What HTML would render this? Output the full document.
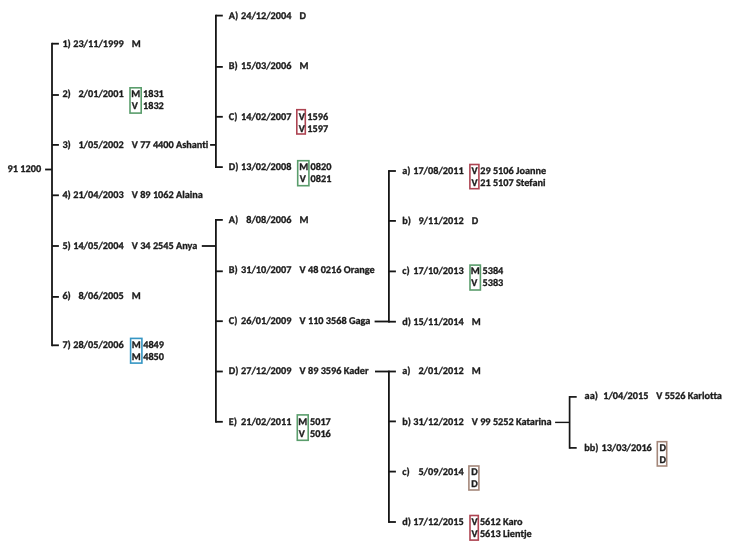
<!DOCTYPE html>
<html><head><meta charset="utf-8"><title>Stamboom</title>
<style>
html,body{margin:0;padding:0;background:#fff;}
body{width:736px;height:550px;position:relative;overflow:hidden;}
svg{position:absolute;left:0;top:0;}
b{position:absolute;display:block;white-space:nowrap;font-family:"Carlito", "Liberation Sans", sans-serif;font-weight:bold;font-size:10.25px;font-size-adjust:0.4849;line-height:12px;color:#1c1c1c;-webkit-text-stroke:0.32px #1c1c1c;font-variant-ligatures:none;text-rendering:geometricPrecision;}
</style></head><body>
<svg width="736" height="550" viewBox="0 0 736 550" fill="#161616">
<rect x="51.10" y="42.80" width="1.80" height="303.40"/>
<rect x="52.00" y="42.80" width="6.90" height="1.80"/>
<rect x="52.00" y="94.10" width="6.90" height="1.80"/>
<rect x="52.00" y="144.00" width="6.90" height="1.80"/>
<rect x="52.00" y="194.40" width="6.90" height="1.80"/>
<rect x="52.00" y="245.10" width="6.90" height="1.80"/>
<rect x="52.00" y="296.00" width="6.90" height="1.80"/>
<rect x="52.00" y="344.40" width="6.90" height="1.80"/>
<rect x="45.10" y="168.60" width="6.90" height="1.80"/>
<rect x="215.00" y="14.70" width="1.80" height="153.30"/>
<rect x="215.90" y="14.70" width="6.90" height="1.80"/>
<rect x="215.90" y="66.00" width="6.90" height="1.80"/>
<rect x="215.90" y="115.90" width="6.90" height="1.80"/>
<rect x="215.90" y="166.20" width="6.90" height="1.80"/>
<rect x="210.10" y="144.00" width="5.80" height="1.80"/>
<rect x="215.00" y="219.00" width="1.80" height="203.70"/>
<rect x="215.90" y="219.00" width="6.90" height="1.80"/>
<rect x="215.90" y="270.40" width="6.90" height="1.80"/>
<rect x="215.90" y="320.30" width="6.90" height="1.80"/>
<rect x="215.90" y="370.60" width="6.90" height="1.80"/>
<rect x="215.90" y="420.90" width="6.90" height="1.80"/>
<rect x="201.80" y="245.10" width="14.10" height="1.80"/>
<rect x="388.00" y="170.10" width="1.80" height="152.50"/>
<rect x="388.90" y="170.10" width="7.00" height="1.80"/>
<rect x="388.90" y="220.00" width="7.00" height="1.80"/>
<rect x="388.90" y="270.50" width="7.00" height="1.80"/>
<rect x="388.90" y="320.80" width="7.00" height="1.80"/>
<rect x="374.60" y="320.60" width="14.30" height="1.80"/>
<rect x="388.00" y="370.60" width="1.80" height="152.30"/>
<rect x="388.90" y="370.60" width="7.00" height="1.80"/>
<rect x="388.90" y="420.50" width="7.00" height="1.80"/>
<rect x="388.90" y="470.70" width="7.00" height="1.80"/>
<rect x="388.90" y="521.10" width="7.00" height="1.80"/>
<rect x="375.00" y="370.60" width="13.90" height="1.80"/>
<rect x="568.75" y="396.05" width="1.70" height="52.70"/>
<rect x="569.60" y="396.05" width="7.10" height="1.70"/>
<rect x="569.60" y="447.05" width="7.10" height="1.70"/>
<rect x="555.10" y="421.70" width="14.50" height="1.40"/>
<rect x="130.00" y="87.80" width="11.20" height="25.30" fill="none" stroke="#5a9d6c" stroke-width="1.6"/>
<rect x="130.60" y="338.40" width="11.30" height="24.70" fill="none" stroke="#3696c4" stroke-width="1.6"/>
<rect x="296.80" y="109.70" width="8.50" height="24.30" fill="none" stroke="#ad4452" stroke-width="1.6"/>
<rect x="297.70" y="160.70" width="11.20" height="25.00" fill="none" stroke="#5a9d6c" stroke-width="1.6"/>
<rect x="297.30" y="414.90" width="10.90" height="25.40" fill="none" stroke="#5a9d6c" stroke-width="1.6"/>
<rect x="469.90" y="164.50" width="9.00" height="24.20" fill="none" stroke="#ad4452" stroke-width="1.6"/>
<rect x="470.00" y="265.10" width="10.40" height="24.90" fill="none" stroke="#5a9d6c" stroke-width="1.6"/>
<rect x="468.90" y="466.00" width="10.00" height="24.00" fill="none" stroke="#a4877a" stroke-width="1.6"/>
<rect x="470.00" y="515.50" width="8.30" height="24.60" fill="none" stroke="#ad4452" stroke-width="1.6"/>
<rect x="657.30" y="441.70" width="9.40" height="24.30" fill="none" stroke="#a4877a" stroke-width="1.6"/>
</svg>
<b style="left:7.60px;top:163.43px">91 1200</b>
<b style="left:62.40px;top:37.78px">1)</b>
<b style="right:612.40px;top:37.78px">23/11/1999</b>
<b style="left:131.80px;top:37.78px">M</b>
<b style="left:62.40px;top:88.23px">2)</b>
<b style="right:612.40px;top:88.23px">2/01/2001</b>
<b style="left:131.20px;top:88.23px">M</b>
<b style="left:131.70px;top:100.23px">V</b>
<b style="left:143.00px;top:88.23px">1831</b>
<b style="left:143.00px;top:100.23px">1832</b>
<b style="left:62.40px;top:138.68px">3)</b>
<b style="right:612.40px;top:138.68px">1/05/2002</b>
<b style="left:131.80px;top:138.68px">V 77 4400 Ashanti</b>
<b style="left:62.40px;top:189.03px">4)</b>
<b style="right:612.40px;top:189.03px">21/04/2003</b>
<b style="left:131.80px;top:189.03px">V 89 1062 Alaina</b>
<b style="left:62.40px;top:239.53px">5)</b>
<b style="right:612.40px;top:239.53px">14/05/2004</b>
<b style="left:131.80px;top:239.53px">V 34 2545 Anya</b>
<b style="left:62.40px;top:289.63px">6)</b>
<b style="right:612.40px;top:289.63px">8/06/2005</b>
<b style="left:131.80px;top:289.63px">M</b>
<b style="left:62.40px;top:338.63px">7)</b>
<b style="right:612.40px;top:338.63px">28/05/2006</b>
<b style="left:131.70px;top:338.63px">M</b>
<b style="left:131.70px;top:350.63px">M</b>
<b style="left:143.20px;top:338.63px">4849</b>
<b style="left:143.20px;top:350.63px">4850</b>
<b style="left:228.80px;top:9.78px">A)</b>
<b style="right:444.60px;top:9.78px">24/12/2004</b>
<b style="left:299.60px;top:9.78px">D</b>
<b style="left:228.80px;top:60.13px">B)</b>
<b style="right:444.60px;top:60.13px">15/03/2006</b>
<b style="left:299.60px;top:60.13px">M</b>
<b style="left:228.80px;top:110.53px">C)</b>
<b style="right:444.60px;top:110.53px">14/02/2007</b>
<b style="left:298.70px;top:110.53px">V</b>
<b style="left:298.70px;top:122.53px">V</b>
<b style="left:307.30px;top:110.53px">1596</b>
<b style="left:307.30px;top:122.53px">1597</b>
<b style="left:228.80px;top:160.88px">D)</b>
<b style="right:444.60px;top:160.88px">13/02/2008</b>
<b style="left:299.20px;top:160.88px">M</b>
<b style="left:299.70px;top:172.88px">V</b>
<b style="left:310.60px;top:160.88px">0820</b>
<b style="left:310.60px;top:172.88px">0821</b>
<b style="left:228.80px;top:213.88px">A)</b>
<b style="right:444.60px;top:213.88px">8/08/2006</b>
<b style="left:299.60px;top:213.88px">M</b>
<b style="left:228.80px;top:264.43px">B)</b>
<b style="right:444.60px;top:264.43px">31/10/2007</b>
<b style="left:299.60px;top:264.43px">V 48 0216 Orange</b>
<b style="left:228.80px;top:314.63px">C)</b>
<b style="right:444.60px;top:314.63px">26/01/2009</b>
<b style="left:299.60px;top:314.63px">V 110 3568 Gaga</b>
<b style="left:228.80px;top:365.03px">D)</b>
<b style="right:444.60px;top:365.03px">27/12/2009</b>
<b style="left:299.60px;top:365.03px">V 89 3596 Kader</b>
<b style="left:228.80px;top:415.53px">E)</b>
<b style="right:444.60px;top:415.53px">21/02/2011</b>
<b style="left:298.30px;top:415.53px">M</b>
<b style="left:298.80px;top:427.53px">V</b>
<b style="left:310.00px;top:415.53px">5017</b>
<b style="left:310.00px;top:427.53px">5016</b>
<b style="left:402.30px;top:164.63px">a)</b>
<b style="right:272.40px;top:164.63px">17/08/2011</b>
<b style="left:471.60px;top:164.63px">V</b>
<b style="left:471.60px;top:176.63px">V</b>
<b style="left:480.20px;top:164.63px">29 5106 Joanne</b>
<b style="left:480.20px;top:176.63px">21 5107 Stefani</b>
<b style="left:402.30px;top:214.93px">b)</b>
<b style="right:272.40px;top:214.93px">9/11/2012</b>
<b style="left:471.80px;top:214.93px">D</b>
<b style="left:402.30px;top:265.23px">c)</b>
<b style="right:272.40px;top:265.23px">17/10/2013</b>
<b style="left:470.80px;top:265.23px">M</b>
<b style="left:471.30px;top:277.23px">V</b>
<b style="left:482.50px;top:265.23px">5384</b>
<b style="left:482.50px;top:277.23px">5383</b>
<b style="left:402.30px;top:315.53px">d)</b>
<b style="right:272.40px;top:315.53px">15/11/2014</b>
<b style="left:471.80px;top:315.53px">M</b>
<b style="left:402.30px;top:365.23px">a)</b>
<b style="right:272.40px;top:365.23px">2/01/2012</b>
<b style="left:471.80px;top:365.23px">M</b>
<b style="left:402.30px;top:415.63px">b)</b>
<b style="right:272.40px;top:415.63px">31/12/2012</b>
<b style="left:471.80px;top:415.63px">V 99 5252 Katarina</b>
<b style="left:402.30px;top:465.63px">c)</b>
<b style="right:272.40px;top:465.63px">5/09/2014</b>
<b style="left:471.20px;top:465.63px">D</b>
<b style="left:471.20px;top:477.63px">D</b>
<b style="left:402.30px;top:515.63px">d)</b>
<b style="right:272.40px;top:515.63px">17/12/2015</b>
<b style="left:471.40px;top:515.63px">V</b>
<b style="left:471.40px;top:527.63px">V</b>
<b style="left:479.90px;top:515.63px">5612 Karo</b>
<b style="left:479.90px;top:527.63px">5613 Lientje</b>
<b style="left:584.60px;top:390.23px">aa)</b>
<b style="right:87.60px;top:390.23px">1/04/2015</b>
<b style="left:656.30px;top:390.23px">V 5526 Karlotta</b>
<b style="left:584.20px;top:441.73px">bb)</b>
<b style="right:84.20px;top:441.73px">13/03/2016</b>
<b style="left:659.60px;top:441.73px">D</b>
<b style="left:659.60px;top:453.73px">D</b>
</body></html>
